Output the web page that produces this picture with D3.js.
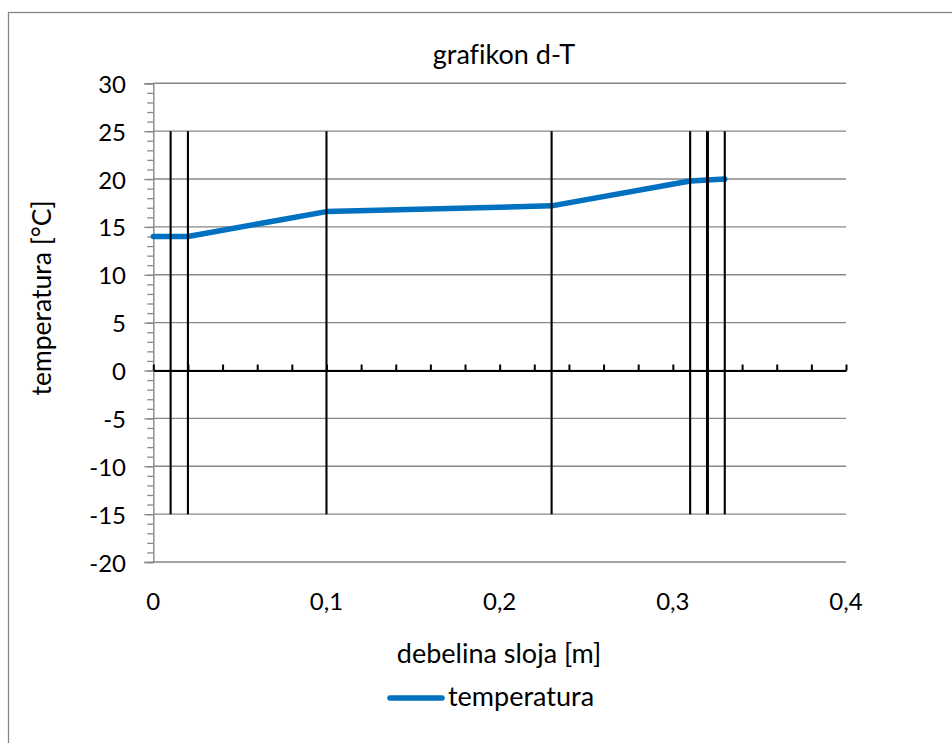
<!DOCTYPE html>
<html>
<head>
<meta charset="utf-8">
<script src="https://cdn.jsdelivr.net/npm/d3@7"></script>
<style>
  html, body { margin: 0; padding: 0; background: #fff; }
  svg { display: block; }
  text { font-family: Lato, "Noto Sans", sans-serif; fill: #000; font-variant-ligatures: none; }
</style>
</head>
<body>
<svg id="chart" width="952" height="743"></svg>
<script>
// Layer thickness (m) and temperature (°C) through the wall
const depth = [0, 0.01, 0.02, 0.1, 0.23, 0.31, 0.32, 0.33];
const temperature = [14, 14, 14, 16.6, 17.2, 19.8, 19.9, 20];

// Layer boundaries, drawn as vertical marker lines
const boundaries = [0.01, 0.02, 0.1, 0.23, 0.31, 0.32, 0.33];
const boundarySpan = [-15, 25];

// Axis ticks
const xTicks = [0, 0.1, 0.2, 0.3, 0.4];
const xMinorTicks = d3.range(0, 21).map(i => i * 0.02);
const yTicks = [30, 25, 20, 15, 10, 5, 0, -5, -10, -15, -20];
const yMinorTicks = d3.range(-20, 31);

const titleText = "grafikon d-T";
const xTitle = "debelina sloja [m]";
const yTitle = "temperatura [°C]";
const seriesName = "temperatura";

const svg = d3.select("#chart");
const grid = "#878787";
const blue = "#0070C0";

const x = d3.scaleLinear().domain([0, 0.4]).range([153.3, 846]);
const y = d3.scaleLinear().domain([-20, 30]).range([562, 83.3]);
const fmt = v => d3.format(".1~f")(v).replace(".", ",");

// Outer chart frame
svg.append("rect")
  .attr("x", 8.5).attr("y", 12.5)
  .attr("width", 1000).attr("height", 1000)
  .attr("fill", "none").attr("stroke", grid).attr("stroke-width", 1.3);

// Horizontal gridlines
svg.append("g")
  .selectAll("line").data(yTicks).join("line")
  .attr("x1", x(0)).attr("x2", x(0.4))
  .attr("y1", d => y(d)).attr("y2", d => y(d))
  .attr("stroke", grid).attr("stroke-width", 1.4);

// Y axis (grey line with major and minor ticks)
const yAxis = svg.append("g").attr("transform", `translate(${x(0)},0)`);
yAxis.append("g")
  .call(d3.axisLeft(y).tickValues(yMinorTicks).tickSize(6).tickFormat(""))
  .call(g => g.select(".domain").remove())
  .selectAll("line").attr("stroke", grid).attr("stroke-width", 1.3);
yAxis.append("g")
  .call(d3.axisLeft(y).tickValues(yTicks).tickSize(9).tickFormat(""))
  .call(g => g.select(".domain").attr("stroke", grid).attr("stroke-width", 1.4))
  .selectAll("line").attr("stroke", grid).attr("stroke-width", 1.3);

// Y tick labels
svg.append("g")
  .selectAll("text").data(yTicks).join("text")
  .attr("x", 126).attr("y", d => y(d))
  .attr("text-anchor", "end").attr("dominant-baseline", "central")
  .attr("font-size", 24)
  .text(d => d);

// X axis crossing at zero, ticks pointing up
const xAxis = svg.append("g").attr("transform", `translate(0,${y(0)})`);
xAxis.call(d3.axisTop(x).tickValues(xMinorTicks).tickSize(6).tickSizeOuter(0).tickFormat(""))
  .call(g => g.select(".domain").attr("stroke", "#000").attr("stroke-width", 2.2))
  .selectAll(".tick line").attr("stroke", "#000").attr("stroke-width", 2);

// X tick labels at the bottom of the plot
svg.append("g")
  .selectAll("text").data(xTicks).join("text")
  .attr("x", d => x(d)).attr("y", 600)
  .attr("text-anchor", "middle").attr("dominant-baseline", "central")
  .attr("font-size", 24)
  .text(d => fmt(d));

// Temperature line
const line = d3.line().x((d, i) => x(depth[i])).y(d => y(d));
svg.append("path")
  .datum(temperature)
  .attr("d", line)
  .attr("fill", "none").attr("stroke", blue)
  .attr("stroke-width", 5.5)
  .attr("stroke-linejoin", "round").attr("stroke-linecap", "round");

// Layer boundary lines
svg.append("g")
  .selectAll("line").data(boundaries).join("line")
  .attr("x1", d => x(d)).attr("x2", d => x(d))
  .attr("y1", y(boundarySpan[1])).attr("y2", y(boundarySpan[0]))
  .attr("stroke", "#000")
  .attr("stroke-width", (d, i) => i === 5 ? 3 : 2.1);

// Titles
svg.append("text")
  .attr("x", 504).attr("y", 64)
  .attr("text-anchor", "middle").attr("font-size", 27)
  .text(titleText);

svg.append("text")
  .attr("x", 499).attr("y", 663)
  .attr("text-anchor", "middle").attr("font-size", 27)
  .text(xTitle);

svg.append("text")
  .attr("transform", "translate(51,298) rotate(-90)")
  .attr("text-anchor", "middle").attr("font-size", 26.5)
  .text(yTitle);

// Legend
const legend = svg.append("g");
legend.append("line")
  .attr("x1", 390).attr("x2", 442).attr("y1", 698).attr("y2", 698)
  .attr("stroke", blue).attr("stroke-width", 5.5).attr("stroke-linecap", "round");
legend.append("text")
  .attr("x", 448).attr("y", 706)
  .attr("font-size", 27)
  .text(seriesName);
</script>
</body>
</html>
